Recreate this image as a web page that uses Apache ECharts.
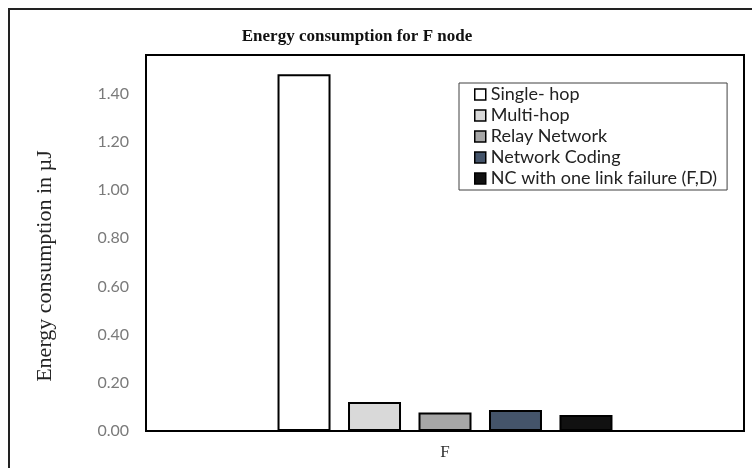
<!DOCTYPE html>
<html>
<head>
<meta charset="utf-8">
<script src="https://cdn.jsdelivr.net/npm/echarts@6/dist/echarts.min.js"></script>
<style>html,body{margin:0;padding:0;background:#fff;}#c{width:752px;height:468px;}</style>
</head>
<body>
<div id="c"></div>
<script>
var categories = ['F'];
var seriesNames = ['Single- hop', 'Multi-hop', 'Relay Network', 'Network Coding', 'NC with one link failure (F,D)'];
var singleHop = [1.48];
var multiHop = [0.12];
var relayNetwork = [0.077];
var networkCoding = [0.087];
var ncLinkFailure = [0.066];
var yTicks = [0, 0.2, 0.4, 0.6, 0.8, 1.0, 1.2, 1.4];
var yAxisTitle = 'Energy consumption in \u00b5J';

var colors = ['#ffffff', '#d9d9d9', '#a6a6a6', '#44546a', '#111111'];
var values = [singleHop, multiHop, relayNetwork, networkCoding, ncLinkFailure];

var chart = echarts.init(document.getElementById('c'), null, {renderer: 'canvas'});
var series = seriesNames.map(function (n, i) {
  return {
    name: n,
    type: 'bar',
    data: values[i],
    barWidth: 53,
    barGap: '33%',
    itemStyle: {color: colors[i], borderColor: '#000', borderWidth: 2}
  };
});
chart.setOption({
  animation: false,
  backgroundColor: '#fff',
  title: {
    text: 'Energy consumption for F node',
    left: 352,
    top: 23,
    textAlign: 'center',
    textStyle: {fontFamily: 'Liberation Serif', fontWeight: 'bold', fontSize: 17, color: '#111'}
  },
  graphic: [{
    type: 'rect',
    shape: {x: 9, y: 9, width: 800, height: 500},
    style: {fill: 'none', stroke: '#222', lineWidth: 2},
    silent: true
  }, {
    type: 'text',
    x: 45,
    y: 266,
    rotation: Math.PI / 2,
    style: {
      text: yAxisTitle,
      fontFamily: 'Liberation Serif',
      fontSize: 22,
      fill: '#222',
      align: 'center',
      verticalAlign: 'middle'
    },
    silent: true
  }],
  legend: {
    orient: 'vertical',
    left: 459,
    top: 83,
    padding: [2, 10, 2, 15],
    itemGap: 2,
    itemWidth: 11,
    itemHeight: 11,
    borderColor: '#404040',
    borderWidth: 1,
    icon: 'rect',
    data: seriesNames,
    itemStyle: {borderWidth: 1.5, borderColor: '#000'},
    textStyle: {fontFamily: 'Lato', fontSize: 18, lineHeight: 19, color: '#222'}
  },
  grid: {
    left: 146, right: 8, top: 55, bottom: 37,
    show: true, borderColor: '#000', borderWidth: 2, backgroundColor: 'transparent'
  },
  xAxis: {
    type: 'category',
    data: categories,
    axisLine: {show: false},
    axisTick: {show: false},
    axisLabel: {margin: 13, fontFamily: 'Liberation Serif', fontSize: 17, color: '#333'}
  },
  yAxis: {
    type: 'value',
    min: 0,
    max: 1.56,
    interval: 0.2,
    axisLine: {show: false},
    axisTick: {show: false},
    splitLine: {show: false},
    axisLabel: {
      margin: 17,
      fontFamily: 'Lato',
      fontSize: 16,
      color: '#7a7a7a',
      showMaxLabel: false,
      formatter: function (v) {
        for (var i = 0; i < yTicks.length; i++) {
          if (Math.abs(yTicks[i] - v) < 1e-6) return yTicks[i].toFixed(2);
        }
        return '';
      }
    }
  },
  series: series
});
</script>
</body>
</html>
